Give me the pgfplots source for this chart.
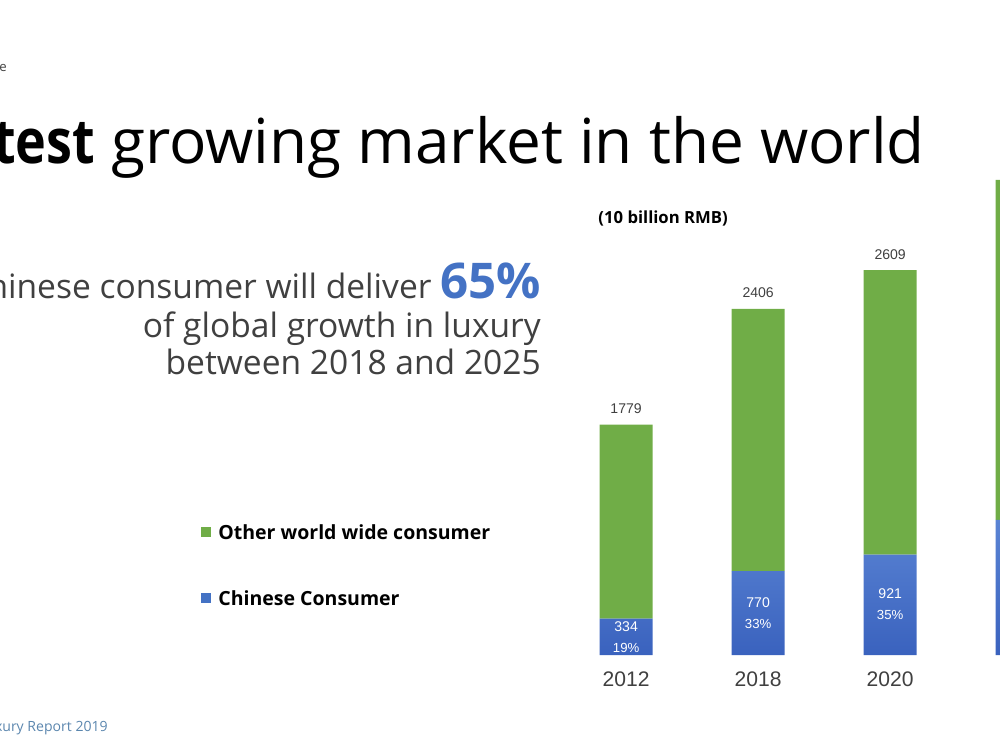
\documentclass[border=0pt]{standalone}
\usepackage{pgfplots}
\pgfplotsset{compat=1.18}
\usepackage{fontspec}
\setmainfont{Open Sans}
\newfontfamily\arial{Liberation Sans}
\definecolor{cgreen}{HTML}{70AD47}
\definecolor{cblue}{HTML}{4472C4}
\definecolor{cbluetop}{HTML}{5A84D4}
\definecolor{cbluebot}{HTML}{3A62BE}
\definecolor{ctext}{HTML}{404040}
\definecolor{csrc}{HTML}{5B86AE}
\begin{document}
\begin{tikzpicture}
\useasboundingbox (0,0) rectangle (20cm,15cm);
\clip (0,0) rectangle (20cm,15cm);
\begin{axis}[
  at={(11.2cm,1.9cm)}, anchor=south west,
  scale only axis, width=10.56cm, height=10.9cm,
  xmin=-0.5, xmax=3.5, ymin=0, ymax=5000,
  axis lines=none,
  ybar stacked, bar width=1.06cm,
  clip=false,
]
\addplot[draw=none, top color=cbluetop, bottom color=cbluebot] coordinates {(0,334) (1,770) (2,921) (3,1240)};
\addplot[draw=none, fill=cgreen] coordinates {(0,1779) (1,2406) (2,2609) (3,3120)};
\end{axis}
\begin{scope}[x=0.02cm, y=-0.02cm, shift={(0,15cm)}]
  % title
  \node[anchor=base east, inner sep=0pt, font=\fontsize{35.3}{40}\selectfont] at (925,163) {\scalebox{0.84}[1]{\textbf{Fastest}} growing market in the world};
  % subtitle
  \node[anchor=base east, inner sep=0pt, text=ctext, font=\fontsize{19.1}{23}\selectfont] at (541,298) {Chinese consumer will deliver \textcolor{cblue}{\fontsize{28}{30}\selectfont\textbf{65\%}}};
  \node[anchor=base east, inner sep=0pt, text=ctext, font=\fontsize{19.1}{23}\selectfont] at (541,337) {of global growth in luxury};
  \node[anchor=base east, inner sep=0pt, text=ctext, font=\fontsize{19.1}{23}\selectfont] at (541,374) {between 2018 and 2025};
  % unit
  \node[anchor=west, inner sep=0pt, font=\fontsize{9.5}{11}\selectfont\bfseries] at (598,218) {(10 billion RMB)};
  % legend
  \fill[cgreen] (201,527) rectangle (211,537);
  \node[anchor=west, inner sep=0pt, font=\fontsize{11.1}{13}\selectfont\bfseries] at (218,532) {Other world wide consumer};
  \fill[cblue] (201,593) rectangle (211,603);
  \node[anchor=west, inner sep=0pt, font=\fontsize{11.1}{13}\selectfont\bfseries] at (218,598) {Chinese Consumer};
  % corner texts
  \node[anchor=base east, inner sep=0pt, text=ctext, font=\fontsize{7.5}{9}\selectfont] at (7,71) {Source: Bain \& Company, McKinsey estimate};
  \node[anchor=base east, inner sep=0pt, text=csrc, font=\fontsize{8}{10}\selectfont] at (108,731) {Source: McKinsey China Luxury Report 2019};
  % bar labels
  \foreach \xx/\tot/\ty in {626/1779/409, 758/2406/293, 890/2609/255} {
    \node[text=ctext, font=\arial\fontsize{8}{10}\selectfont] at (\xx,\ty) {\tot};
  }
  \foreach \xx/\v/\p/\ty in {626/334/19/627, 758/770/33/603, 890/921/35/594} {
    \node[text=white, font=\arial\fontsize{8}{10}\selectfont] at (\xx,\ty) {\v};
    \node[text=white, font=\arial\fontsize{7.5}{10}\selectfont] at (\xx,\ty+21) {\p\%};
  }
  \foreach \xx/\yr in {626/2012, 758/2018, 890/2020} {
    \node[text=ctext, font=\arial\fontsize{12}{14}\selectfont] at (\xx,679) {\yr};
  }
\end{scope}
\end{tikzpicture}
\end{document}
